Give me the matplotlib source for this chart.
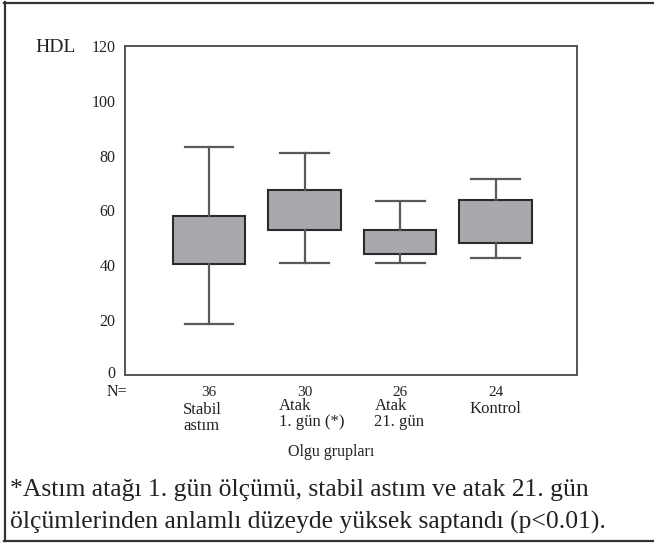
import matplotlib
matplotlib.use("Agg")
import matplotlib.pyplot as plt
from matplotlib.lines import Line2D
from matplotlib.transforms import blended_transform_factory, ScaledTranslation

# ---- data ----
groups = ["Stabil\nastım", "Atak\n1. gün (*)", "Atak\n21. gün", "Kontrol"]
n_values = [36, 30, 26, 24]
whis_lo = [18.5, 41, 41, 42.5]
q1 = [40.5, 53, 44, 48]
q3 = [58, 67.5, 53, 64]
whis_hi = [83, 81, 63.5, 71.5]
yticks = [0, 20, 40, 60, 80, 100, 120]
caption = ["*Astım atağı 1. gün ölçümü, stabil astım ve atak 21. gün",
           "ölçümlerinden anlamlı düzeyde yüksek saptandı (p<0.01)."]

W, H = 654, 550
fig = plt.figure(figsize=(W / 100, H / 100), dpi=100)
plt.rcParams['font.family'] = ['Liberation Serif', 'DejaVu Serif']

def fx(x):
    return x / W

def fy(y):
    return 1 - y / H

ax = fig.add_axes([fx(125), fy(375), fx(577) - fx(125), fy(46) - fy(375)])

stats = []
for i in range(len(groups)):
    stats.append(dict(whislo=whis_lo[i], q1=q1[i], med=q1[i], q3=q3[i],
                      whishi=whis_hi[i], fliers=[], label=groups[i]))

positions = list(range(1, len(groups) + 1))
ax.bxp(stats, positions=positions, widths=0.76, capwidths=0.51,
       showfliers=False, patch_artist=True,
       boxprops=dict(facecolor="#a8a9ac", edgecolor="#2a2a2a", linewidth=1.5),
       whiskerprops=dict(color="#5a5a5a", linewidth=1.6),
       capprops=dict(color="#5a5a5a", linewidth=1.6),
       medianprops=dict(visible=False))

ax.set_xlim(0.121, 4.85)
ax.set_ylim(0, 120)
ax.set_yticks(yticks)
ax.set_yticklabels([str(v) for v in yticks], fontsize=11.5, color="#222222")
ax.tick_params(axis='y', length=0, pad=7)
ax.set_xticks([])
# the "0" label sits slightly above the bottom spine in the reference
lbl0 = ax.get_yticklabels()[0]
lbl0.set_transform(lbl0.get_transform() + ScaledTranslation(0, 3 / 100, fig.dpi_scale_trans))
for s in ax.spines.values():
    s.set_color("#555555")
    s.set_linewidth(1.4)

tr = blended_transform_factory(ax.transData, fig.transFigure)
txtc = "#222222"
for i, p in enumerate(positions):
    fig.text(p, fy(392), str(n_values[i]), transform=tr, ha="center", va="center",
             fontsize=11, color=txtc)

label_y = [418, 414, 414, 409]
for i, p in enumerate(positions):
    fig.text(p - 0.27, fy(label_y[i]), groups[i], transform=tr, ha="left", va="center",
             fontsize=12, color=txtc, linespacing=0.95)

fig.text(fx(107), fy(392), "N=", ha="left", va="center", fontsize=11.5, color=txtc)
fig.text(fx(35), fy(48), "HDL", ha="left", va="center", fontsize=14, color=txtc)
fig.text(fx(331), fy(452), "Olgu grupları", ha="center", va="center", fontsize=11.5, color=txtc)

# caption size: chosen so the lines span roughly the reference width
renderer = fig.canvas.get_renderer()
probe = fig.text(0, 0, caption[1], fontsize=10)
w10 = probe.get_window_extent(renderer).width
probe.remove()
cap_size = 10 * 595 / w10
fig.text(fx(10), fy(490), caption[0], ha="left", va="center", fontsize=cap_size, color=txtc)
fig.text(fx(10), fy(522), caption[1], ha="left", va="center", fontsize=cap_size, color=txtc)

fc = "#333333"
fig.add_artist(Line2D([fx(4), fx(654)], [fy(2.5), fy(2.5)], color=fc, lw=1.6, transform=fig.transFigure))
fig.add_artist(Line2D([fx(4.5), fx(4.5)], [fy(2), fy(541)], color=fc, lw=1.6, transform=fig.transFigure))
fig.add_artist(Line2D([fx(4), fx(654)], [fy(541), fy(541)], color=fc, lw=1.6, transform=fig.transFigure))

fig.savefig("out.png", dpi=100)
